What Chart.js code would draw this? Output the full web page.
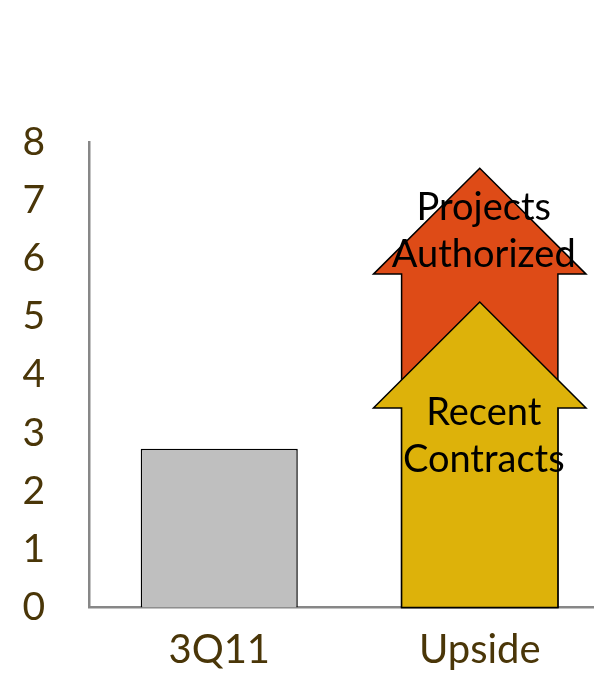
<!DOCTYPE html>
<html>
<head>
<meta charset="utf-8">
<script src="https://cdn.jsdelivr.net/npm/chart.js@4/dist/chart.umd.min.js"></script>
<style>
  html, body { margin: 0; padding: 0; background: #fff; overflow: hidden; }
  #wrap { width: 594px; height: 675px; overflow: hidden; position: relative; }
  canvas { display: block; }
</style>
</head>
<body>
<div id="wrap"><canvas id="c" width="610" height="675"></canvas></div>
<script>
// Categories and values
const categories = ['3Q11', 'Upside'];
const currentValues = [2.73, null];

// Upside arrows: tip value and shoulder (head base) value per category
const authorizedTips = [null, 7.55];
const authorizedShoulders = [null, 5.73];
const contractTips = [null, 5.25];
const contractShoulders = [null, 3.43];

// Arrow captions
const authorizedCaption = ['Projects', 'Authorized'];
const contractCaption = ['Recent', 'Contracts'];

// Y axis ticks
const yTicks = [0, 1, 2, 3, 4, 5, 6, 7, 8];

const TICK_COLOR = '#4a3608';
const AXIS_COLOR = '#878787';
const FONT = 'Lato, "Open Sans", sans-serif';

const toRange = (tips) => tips.map(v => (v == null ? null : [0, v]));

// Draws each arrow dataset as an upward block arrow using the bar element geometry
const arrowPlugin = {
  id: 'arrows',
  afterDatasetsDraw(chart, args, opts) {
    const ctx = chart.ctx;
    const y = chart.scales.y;
    opts.items.forEach(item => {
      const meta = chart.getDatasetMeta(item.dataset);
      const shoulders = item.shoulders;
      meta.data.forEach((el, i) => {
        if (shoulders[i] == null) return;
        const { x, width, base } = el.getProps(['x', 'width', 'base'], true);
        const tip = el.getProps(['y'], true).y;
        const sy = y.getPixelForValue(shoulders[i]);
        const half = width / 2;
        const over = width * 0.18;
        ctx.save();
        ctx.beginPath();
        ctx.moveTo(x - half, base);
        ctx.lineTo(x - half, sy);
        ctx.lineTo(x - half - over, sy);
        ctx.lineTo(x, tip);
        ctx.lineTo(x + half + over, sy);
        ctx.lineTo(x + half, sy);
        ctx.lineTo(x + half, base);
        ctx.closePath();
        ctx.fillStyle = item.color;
        ctx.fill();
        ctx.lineWidth = 1.5;
        ctx.strokeStyle = '#000';
        ctx.lineJoin = 'miter';
        ctx.stroke();

        // caption
        ctx.fillStyle = '#000';
        ctx.font = '38px ' + FONT;
        ctx.textAlign = 'center';
        ctx.textBaseline = 'middle';
        const cy = y.getPixelForValue(item.captionAt);
        const lh = 47;
        const n = item.caption.length;
        item.caption.forEach((line, k) => {
          ctx.fillText(line, x + 4, cy + (k - (n - 1) / 2) * lh);
        });
        ctx.restore();
      });
    });
  }
};

new Chart(document.getElementById('c'), {
  type: 'bar',
  data: {
    labels: categories,
    datasets: [
      {
        label: '3Q11',
        data: currentValues,
        backgroundColor: '#bfbfbf',
        borderColor: '#000',
        borderWidth: 1.5,
        borderSkipped: 'bottom',
        grouped: false,
        categoryPercentage: 1,
        barPercentage: 0.603
      },
      {
        label: 'Projects Authorized',
        data: toRange(authorizedTips),
        backgroundColor: 'rgba(0,0,0,0)',
        borderWidth: 0,
        grouped: false,
        categoryPercentage: 1,
        barPercentage: 0.6
      },
      {
        label: 'Recent Contracts',
        data: toRange(contractTips),
        backgroundColor: 'rgba(0,0,0,0)',
        borderWidth: 0,
        grouped: false,
        categoryPercentage: 1,
        barPercentage: 0.6
      }
    ]
  },
  options: {
    responsive: false,
    devicePixelRatio: 1,
    animation: false,
    layout: { padding: { top: 142, left: 0, right: 0, bottom: 0 } },
    plugins: {
      legend: { display: false },
      tooltip: { enabled: false },
      arrows: {
        items: [
          { dataset: 1, shoulders: authorizedShoulders, color: '#de4b17', caption: authorizedCaption, captionAt: 6.47 },
          { dataset: 2, shoulders: contractShoulders, color: '#ddb20a', caption: contractCaption, captionAt: 2.95 }
        ]
      }
    },
    scales: {
      x: {
        grid: { display: false, drawTicks: false },
        border: { display: true, color: AXIS_COLOR, width: 2.5 },
        ticks: { color: TICK_COLOR, font: { family: FONT, size: 40 }, padding: 18 },
        afterFit(scale) { scale.height = 67; }
      },
      y: {
        min: 0,
        max: 8,
        afterBuildTicks(scale) { scale.ticks = yTicks.map(v => ({ value: v })); },
        grid: { display: false, drawTicks: false },
        border: { display: true, color: AXIS_COLOR, width: 2.5 },
        ticks: { color: TICK_COLOR, font: { family: FONT, size: 39 }, padding: 44 },
        afterFit(scale) { scale.width = 89; }
      }
    }
  },
  plugins: [arrowPlugin]
});
</script>
</body>
</html>
